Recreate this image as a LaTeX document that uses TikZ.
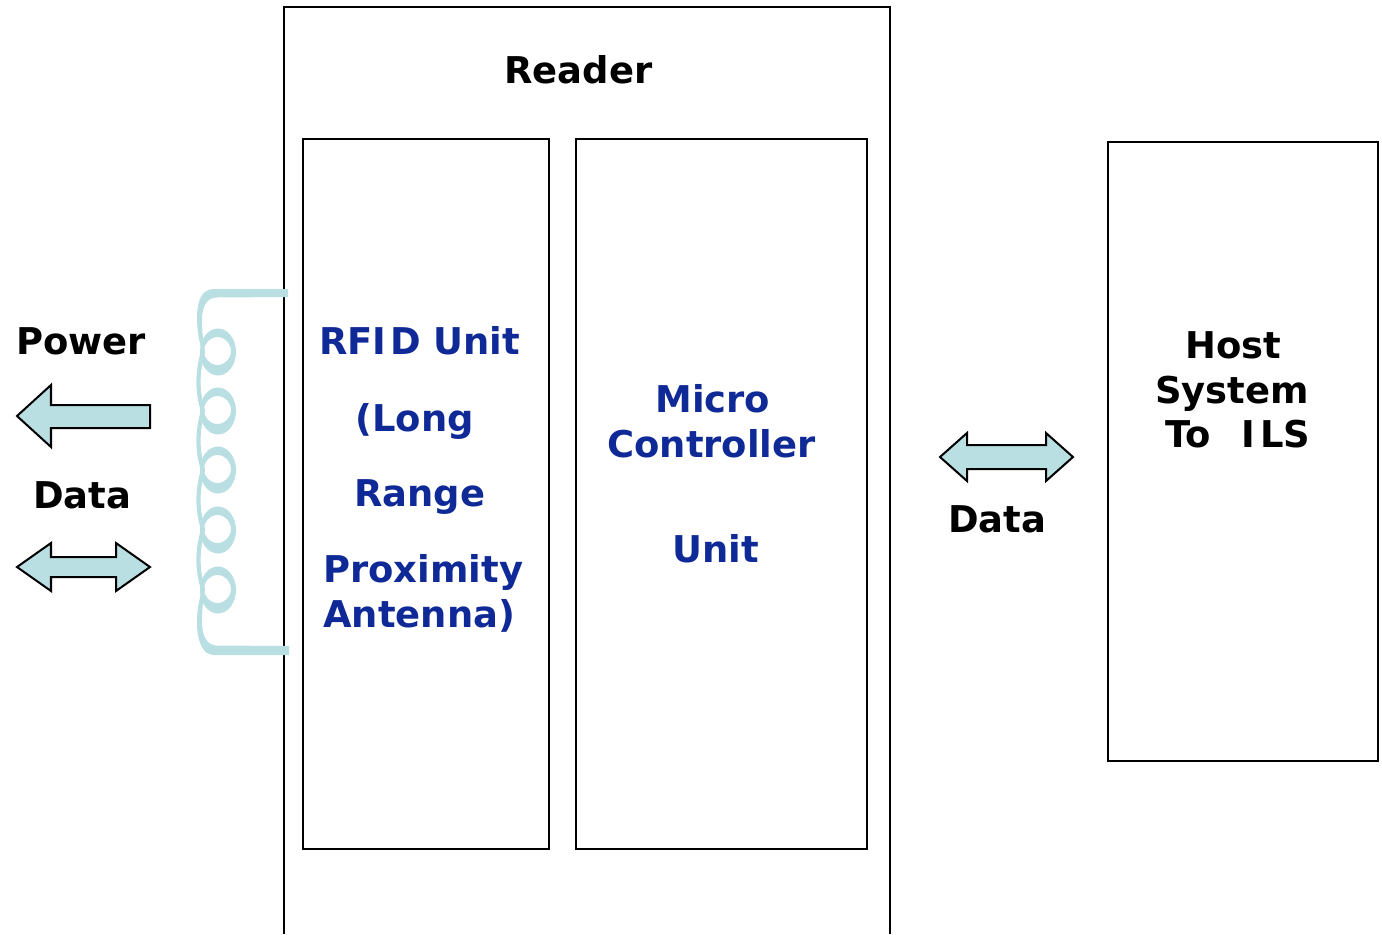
\documentclass[tikz,border=0pt]{standalone}
\usepackage{fontspec}
\setmainfont{DejaVu Sans}
\usepackage{xcolor}
\definecolor{coilblue}{HTML}{B9DFE3}
\definecolor{labelblue}{HTML}{0F2A96}
\tikzset{
 boxline/.style={black, line width=1.14pt},
 coilline/.style={coilblue, line width=2.4pt, line cap=round, line join=round},
 arrowshape/.style={draw=black, fill=coilblue, line width=1.14pt, line join=miter},
 blacklabel/.style={anchor=base west, inner sep=0, font=\fontsize{21}{21}\selectfont\bfseries, text=black},
 bluelabel/.style={blacklabel, text=labelblue}
}
\begin{document}
\begin{tikzpicture}[x=.02cm, y=-.02cm]
\useasboundingbox (0,0) rectangle (1382,934);
% boxes
\draw[boxline] (284,934)--(284,7)--(890,7)--(890,934);
\draw[boxline] (303,139) rectangle (549,849);
\draw[boxline] (576,139) rectangle (867,849);
\draw[boxline] (1108,142) rectangle (1378,761);
% coil
\foreach \y in {352,411,470,530,590} {
 \fill[coilblue, even odd rule] (218,\y) ellipse [x radius=18, y radius=23.5]
   (217.5,\y-1) ellipse [x radius=13.5, y radius=14];
}
\foreach \y in {352,411,470,530} {
 \draw[coilline] (203,\y) .. controls (197,\y+20) and (197,\y+40) .. (203,\y+59);
}
\fill[coilblue] (288,289) -- (288,297) -- (216,297.5) .. controls (207,298) and (202,306) .. (202,320)
  .. controls (202,332) and (203,340) .. (205,352) -- (202,352) .. controls (199,340) and (197,330) .. (197,318)
  .. controls (197,300) and (202,289) .. (214,289) -- cycle;
\fill[coilblue] (289,646) -- (289,655) -- (214,655) .. controls (202,655) and (197,640) .. (197,622)
  .. controls (197,610) and (199,600) .. (202,590) -- (205,590) .. controls (203,600) and (202,610) .. (202,622)
  .. controls (202,636) and (207,645) .. (216,645.5) -- cycle;
% arrows
\draw[arrowshape] (17,416)--(51,385)--(51,405)--(150,405)--(150,428)--(51,428)--(51,447)--cycle;
\foreach \xa/\ya/\b/\c/\xb/\h/\s in {17/567/51/116/150/24/10, 940/457/967/1046/1073/24/12} {
 \draw[arrowshape] (\xa,\ya)--(\b,\ya-\h)--(\b,\ya-\s)--(\c,\ya-\s)--(\c,\ya-\h)--(\xb,\ya)
   --(\c,\ya+\h)--(\c,\ya+\s)--(\b,\ya+\s)--(\b,\ya+\h)--cycle;
}
% labels
\node[blacklabel] (reader) at (504,83) {Reader};
\node[blacklabel] (power) at (16,354) {Power};
\node[blacklabel] (dataleft) at (33,508) {Data};
\node[blacklabel] (dataright) at (948,532) {Data};
\node[blacklabel] (host) at (1185,358) {Host};
\node[blacklabel] (system) at (1155,403) {System};
\node[blacklabel] (toils) at (1165,447) {To\ \ \kern3pt I\kern2.5pt LS};
\node[bluelabel] (rfid) at (319,354) {RFI\kern2pt D Unit};
\node[bluelabel] (long) at (355,431) {(Long};
\node[bluelabel] (range) at (354,506) {Range};
\node[bluelabel] (proximity) at (323,582) {Proximity};
\node[bluelabel] (antenna) at (323,627) {Antenna)};
\node[bluelabel] (micro) at (655,412) {Micro};
\node[bluelabel] (controller) at (607,457) {Controller};
\node[bluelabel] (unit) at (672,562) {Unit};
\end{tikzpicture}
\end{document}
